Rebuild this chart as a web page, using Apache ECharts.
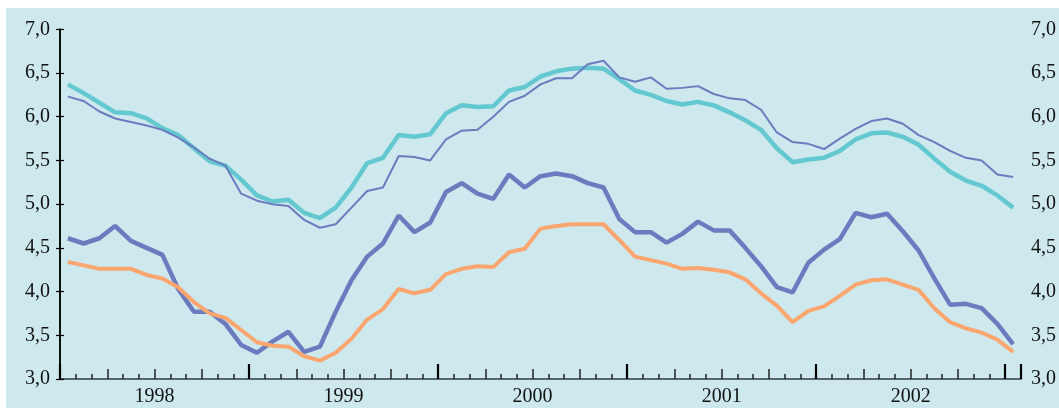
<!DOCTYPE html>
<html>
<head>
<meta charset="utf-8">
<script src="https://cdn.jsdelivr.net/npm/echarts@6/dist/echarts.min.js"></script>
<style>
  html, body { margin: 0; padding: 0; background: #ffffff; }
  #bg { position: absolute; left: 6px; top: 8px; width: 1053px; height: 400px; background: #cde9ed; }
  #chart { position: absolute; left: 0; top: 0; width: 1059px; height: 408px; }
</style>
</head>
<body>
<div id="bg"></div>
<div id="chart"></div>
<script>
// Monthly categories, Jan 1998 - Jan 2003
var months = [
  '1998-01','1998-02','1998-03','1998-04','1998-05','1998-06','1998-07','1998-08','1998-09','1998-10','1998-11','1998-12',
  '1999-01','1999-02','1999-03','1999-04','1999-05','1999-06','1999-07','1999-08','1999-09','1999-10','1999-11','1999-12',
  '2000-01','2000-02','2000-03','2000-04','2000-05','2000-06','2000-07','2000-08','2000-09','2000-10','2000-11','2000-12',
  '2001-01','2001-02','2001-03','2001-04','2001-05','2001-06','2001-07','2001-08','2001-09','2001-10','2001-11','2001-12',
  '2002-01','2002-02','2002-03','2002-04','2002-05','2002-06','2002-07','2002-08','2002-09','2002-10','2002-11','2002-12',
  '2003-01'
];
var yearLabels = ['1998', '1999', '2000', '2001', '2002'];
var yTicks = [3.0, 3.5, 4.0, 4.5, 5.0, 5.5, 6.0, 6.5, 7.0];

var cyanThick = [
  6.37, 6.27, 6.16, 6.05, 6.04, 5.98, 5.87, 5.79, 5.64, 5.49, 5.44, 5.28,
  5.10, 5.03, 5.05, 4.90, 4.84, 4.96, 5.19, 5.47, 5.53, 5.79, 5.77, 5.80,
  6.04, 6.13, 6.11, 6.12, 6.30, 6.34, 6.46, 6.52, 6.55, 6.56, 6.55, 6.43,
  6.30, 6.25, 6.18, 6.14, 6.17, 6.13, 6.05, 5.96, 5.85, 5.64, 5.48, 5.51,
  5.53, 5.61, 5.74, 5.81, 5.82, 5.77, 5.68, 5.52, 5.37, 5.27, 5.21, 5.10, 4.96
];
var blueThin = [
  6.23, 6.18, 6.06, 5.98, 5.94, 5.90, 5.85, 5.76, 5.65, 5.52, 5.44, 5.12,
  5.04, 5.00, 4.98, 4.82, 4.73, 4.77, 4.96, 5.15, 5.19, 5.55, 5.54, 5.50,
  5.74, 5.84, 5.85, 6.00, 6.17, 6.24, 6.37, 6.44, 6.44, 6.60, 6.64, 6.45,
  6.40, 6.45, 6.32, 6.33, 6.35, 6.26, 6.21, 6.19, 6.08, 5.82, 5.71, 5.69,
  5.63, 5.75, 5.86, 5.95, 5.98, 5.92, 5.79, 5.71, 5.61, 5.53, 5.50, 5.34, 5.31
];
var blueThick = [
  4.61, 4.55, 4.61, 4.75, 4.58, 4.50, 4.42, 4.03, 3.77, 3.77, 3.63, 3.39,
  3.30, 3.43, 3.54, 3.31, 3.37, 3.77, 4.13, 4.40, 4.55, 4.87, 4.68, 4.79,
  5.14, 5.24, 5.12, 5.06, 5.34, 5.19, 5.32, 5.35, 5.32, 5.24, 5.19, 4.83,
  4.68, 4.68, 4.56, 4.66, 4.80, 4.70, 4.70, 4.50, 4.29, 4.05, 3.99, 4.33,
  4.48, 4.60, 4.90, 4.85, 4.89, 4.69, 4.47, 4.15, 3.85, 3.86, 3.81, 3.63, 3.40
];
var orange = [
  4.34, 4.30, 4.26, 4.26, 4.26, 4.19, 4.15, 4.05, 3.88, 3.75, 3.70, 3.56,
  3.42, 3.38, 3.37, 3.26, 3.21, 3.30, 3.46, 3.68, 3.80, 4.03, 3.98, 4.02,
  4.20, 4.26, 4.29, 4.28, 4.45, 4.49, 4.72, 4.75, 4.77, 4.77, 4.77, 4.59,
  4.40, 4.36, 4.32, 4.26, 4.27, 4.25, 4.22, 4.14, 3.98, 3.84, 3.65, 3.78,
  3.83, 3.95, 4.08, 4.13, 4.14, 4.08, 4.02, 3.81, 3.65, 3.58, 3.53, 3.45, 3.31
];

var FONT = 'Liberation Serif';
var chart = echarts.init(document.getElementById('chart'), null, { renderer: 'canvas' });

function yLabel(v) { return v.toFixed(1).replace('.', ','); }

function tickAxis(interval, len, width, color) {
  return {
    type: 'value', min: 0, max: months.length, interval: interval,
    position: 'bottom',
    axisLine: { show: false },
    axisLabel: { show: false },
    splitLine: { show: false },
    axisTick: { show: true, inside: true, length: len, lineStyle: { color: color, width: width } }
  };
}

var yAxisBase = function (pos) {
  return {
    type: 'value', position: pos, min: yTicks[0], max: yTicks[yTicks.length - 1], interval: 0.5,
    axisLine: { show: true, lineStyle: { color: '#000', width: 1.5 } },
    axisTick: { show: true, inside: true, length: 4, lineStyle: { color: '#000', width: 1.2 } },
    axisLabel: { show: true, margin: 10, color: '#111', fontFamily: FONT, fontSize: 20, formatter: yLabel },
    splitLine: { show: false }
  };
};

var option = {
  backgroundColor: 'transparent',
  animation: false,
  grid: { left: 60, right: 37, top: 29.3, bottom: 29, containLabel: false },
  xAxis: [
    {
      type: 'category', data: months, boundaryGap: true, position: 'bottom',
      axisLine: { show: true, lineStyle: { color: '#56656a', width: 2 } },
      axisTick: { show: false }, axisLabel: { show: false }, splitLine: { show: false }
    },
    tickAxis(1, 5, 1.5, '#222'),
    tickAxis(3, 10, 1.5, '#222'),
    tickAxis(12, 15, 2.2, '#000'),
    {
      type: 'value', min: 0, max: months.length, interval: 6, position: 'bottom',
      axisLine: { show: false }, axisTick: { show: false }, splitLine: { show: false },
      axisLabel: {
        show: true, margin: 8, color: '#111', fontFamily: FONT, fontSize: 20,
        formatter: function (v) {
          if (v % 12 === 6) { var k = (v - 6) / 12; return yearLabels[k] || ''; }
          return '';
        }
      }
    }
  ],
  yAxis: [yAxisBase('left'), yAxisBase('right')],
  series: [
    { name: 'blueThick', type: 'line', data: blueThick, xAxisIndex: 0, yAxisIndex: 0, showSymbol: false, symbol: 'none',
      lineStyle: { color: '#6a7bbf', width: 4.5 }, z: 2 },
    { name: 'orange', type: 'line', data: orange, xAxisIndex: 0, yAxisIndex: 0, showSymbol: false, symbol: 'none',
      lineStyle: { color: '#fba56f', width: 4 }, z: 3 },
    { name: 'cyanThick', type: 'line', data: cyanThick, xAxisIndex: 0, yAxisIndex: 0, showSymbol: false, symbol: 'none',
      lineStyle: { color: '#64c8d0', width: 4.5 }, z: 4 },
    { name: 'blueThin', type: 'line', data: blueThin, xAxisIndex: 0, yAxisIndex: 0, showSymbol: false, symbol: 'none',
      lineStyle: { color: '#6a7bbf', width: 2 }, z: 5 }
  ]
};
chart.setOption(option);
</script>
</body>
</html>
